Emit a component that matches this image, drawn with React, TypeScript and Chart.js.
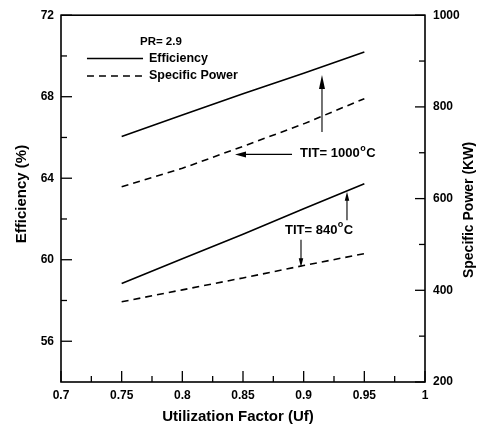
import React, { useEffect, useRef } from "react";
import { Chart, registerables } from "chart.js";

Chart.register(...registerables);

// ---- data ----
const uf = [0.75, 0.8, 0.85, 0.9, 0.95];
const eff1000 = [66.05, 67.1, 68.15, 69.15, 70.2];
const eff840 = [58.83, 60.05, 61.25, 62.5, 63.73];
const sp1000 = [626, 666, 714, 763, 818];
const sp840 = [375, 401, 427, 454, 480];

const xMajorTicks = [0.7, 0.75, 0.8, 0.85, 0.9, 0.95, 1];
const xMinorTicks = [0.725, 0.775, 0.825, 0.875, 0.925, 0.975];
const yLeftMajorTicks = [56, 60, 64, 68, 72];
const yLeftMinorTicks = [58, 62, 66, 70];
const yRightMajorTicks = [200, 400, 600, 800, 1000];
const yRightMinorTicks = [300, 500, 700, 900];

const xTitle = "Utilization Factor (Uf)";
const yLeftTitle = "Efficiency (%)";
const yRightTitle = "Specific Power (KW)";
const legendHeader = "PR= 2.9";
const legendLabels = ["Efficiency", "Specific Power"];

const FONT = "'Liberation Sans', Arial, sans-serif";

function pts(ys: number[]) {
  return uf.map((x, i) => ({ x, y: ys[i] }));
}

function arrow(ctx: CanvasRenderingContext2D, x1: number, y1: number, x2: number, y2: number, headLen: number, headW: number) {
  const ang = Math.atan2(y2 - y1, x2 - x1);
  ctx.beginPath();
  ctx.moveTo(x1, y1);
  ctx.lineTo(x2 - Math.cos(ang) * headLen * 0.6, y2 - Math.sin(ang) * headLen * 0.6);
  ctx.stroke();
  ctx.beginPath();
  ctx.moveTo(x2, y2);
  ctx.lineTo(x2 - Math.cos(ang) * headLen - Math.sin(ang) * headW / 2, y2 - Math.sin(ang) * headLen + Math.cos(ang) * headW / 2);
  ctx.lineTo(x2 - Math.cos(ang) * headLen + Math.sin(ang) * headW / 2, y2 - Math.sin(ang) * headLen - Math.cos(ang) * headW / 2);
  ctx.closePath();
  ctx.fill();
}

function titText(ctx: CanvasRenderingContext2D, x: number, y: number, num: string) {
  ctx.font = `bold 13px ${FONT}`;
  ctx.textAlign = "left";
  ctx.textBaseline = "middle";
  const main = "TIT= " + num;
  ctx.fillText(main, x, y);
  const w = ctx.measureText(main).width;
  ctx.font = `bold 9px ${FONT}`;
  ctx.fillText("o", x + w + 0.5, y - 5);
  const ow = ctx.measureText("o").width;
  ctx.font = `bold 13px ${FONT}`;
  ctx.fillText("C", x + w + ow + 1, y);
}

const decorPlugin = {
  id: "decor",
  afterDraw(chart: any) {
    const ctx: CanvasRenderingContext2D = chart.ctx;
    const { left, right, top, bottom } = chart.chartArea;
    const xs = chart.scales.x;
    const yl = chart.scales.y;
    const yr = chart.scales.y1;
    ctx.save();
    ctx.strokeStyle = "#000";
    ctx.fillStyle = "#000";

    // frame
    ctx.lineWidth = 1.6;
    ctx.strokeRect(left, top, right - left, bottom - top);

    // inward ticks
    ctx.lineWidth = 1.3;
    const tick = (x1: number, y1: number, x2: number, y2: number) => {
      ctx.beginPath();
      ctx.moveTo(x1, y1);
      ctx.lineTo(x2, y2);
      ctx.stroke();
    };
    xMajorTicks.forEach((v) => { const p = xs.getPixelForValue(v); tick(p, bottom, p, bottom - 11); });
    xMinorTicks.forEach((v) => { const p = xs.getPixelForValue(v); tick(p, bottom, p, bottom - 6); });
    yLeftMajorTicks.forEach((v) => { const p = yl.getPixelForValue(v); tick(left, p, left + 11, p); });
    yLeftMinorTicks.forEach((v) => { const p = yl.getPixelForValue(v); tick(left, p, left + 6, p); });
    yRightMajorTicks.forEach((v) => { const p = yr.getPixelForValue(v); tick(right, p, right - 10, p); });
    yRightMinorTicks.forEach((v) => { const p = yr.getPixelForValue(v); tick(right, p, right - 6, p); });

    // axis titles
    ctx.font = `bold 15px ${FONT}`;
    ctx.textAlign = "center";
    ctx.textBaseline = "middle";
    ctx.fillText(xTitle, 238, 417);
    ctx.save();
    ctx.translate(21.5, 194);
    ctx.rotate(-Math.PI / 2);
    ctx.fillText(yLeftTitle, 0, 0);
    ctx.restore();
    ctx.save();
    ctx.font = `bold 14px ${FONT}`;
    ctx.translate(469, 210);
    ctx.rotate(-Math.PI / 2);
    ctx.fillText(yRightTitle, 0, 0);
    ctx.restore();

    // legend (data coords)
    const X = (v: number) => xs.getPixelForValue(v);
    const Y = (v: number) => yl.getPixelForValue(v);
    ctx.font = `bold 11.5px ${FONT}`;
    ctx.textAlign = "left";
    ctx.fillText(legendHeader, X(0.7651), Y(70.7));
    ctx.lineWidth = 1.5;
    ctx.beginPath();
    ctx.moveTo(X(0.7214), Y(69.88));
    ctx.lineTo(X(0.7676), Y(69.88));
    ctx.stroke();
    ctx.setLineDash([7, 5]);
    ctx.beginPath();
    ctx.moveTo(X(0.7214), Y(69.02));
    ctx.lineTo(X(0.7676), Y(69.02));
    ctx.stroke();
    ctx.setLineDash([]);
    ctx.font = `bold 12.5px ${FONT}`;
    ctx.fillText(legendLabels[0], X(0.7725), Y(69.88));
    ctx.fillText(legendLabels[1], X(0.7725), Y(69.02));

    // annotations
    ctx.lineWidth = 1.1;
    arrow(ctx, X(0.9151), Y(66.27), X(0.9151), Y(69.06), 14, 6);
    arrow(ctx, X(0.8904), Y(65.17), X(0.8434), Y(65.17), 11, 6);
    titText(ctx, X(0.897), Y(65.2), "1000");
    arrow(ctx, X(0.9357), Y(61.94), X(0.9357), Y(63.34), 9, 4.5);
    arrow(ctx, X(0.8978), Y(60.98), X(0.8978), Y(59.63), 9, 4.5);
    titText(ctx, X(0.8846), Y(61.46), "840");

    ctx.restore();
  },
};

export default function App() {
  const ref = useRef<HTMLCanvasElement | null>(null);
  useEffect(() => {
    if (!ref.current) return;
    const tickFont = { family: FONT, size: 12, weight: "bold" as const };
    const solid = { borderColor: "#000", borderWidth: 1.6, pointRadius: 0, fill: false, tension: 0 };
    const dashed = { ...solid, borderDash: [7, 5] };
    const chart = new Chart(ref.current, {
      type: "line",
      data: {
        datasets: [
          { label: "Efficiency TIT=1000", data: pts(eff1000), yAxisID: "y", ...solid },
          { label: "Efficiency TIT=840", data: pts(eff840), yAxisID: "y", ...solid },
          { label: "Specific Power TIT=1000", data: pts(sp1000), yAxisID: "y1", ...dashed },
          { label: "Specific Power TIT=840", data: pts(sp840), yAxisID: "y1", ...dashed },
        ],
      },
      options: {
        animation: false,
        responsive: true,
        maintainAspectRatio: false,
        layout: { padding: { top: 8, left: 0, right: 0, bottom: 0 } },
        plugins: { legend: { display: false }, tooltip: { enabled: false }, title: { display: false } },
        scales: {
          x: {
            type: "linear",
            min: 0.7,
            max: 1,
            grid: { display: false, drawTicks: false },
            border: { display: false },
            afterBuildTicks: (s: any) => { s.ticks = xMajorTicks.map((v) => ({ value: v })); },
            ticks: { font: tickFont, color: "#000", padding: 6, maxRotation: 0, autoSkip: false, callback: (v: any) => String(v) },
            afterFit: (s: any) => { s.height = 46; },
          },
          y: {
            type: "linear",
            position: "left",
            min: 54,
            max: 72,
            grid: { display: false, drawTicks: false },
            border: { display: false },
            afterBuildTicks: (s: any) => { s.ticks = yLeftMajorTicks.map((v) => ({ value: v })); },
            ticks: { font: tickFont, color: "#000", padding: 7, autoSkip: false, callback: (v: any) => String(v) },
            afterFit: (s: any) => { s.width = 61; },
          },
          y1: {
            type: "linear",
            position: "right",
            min: 200,
            max: 1000,
            grid: { display: false, drawTicks: false },
            border: { display: false },
            afterBuildTicks: (s: any) => { s.ticks = yRightMajorTicks.map((v) => ({ value: v })); },
            ticks: { font: tickFont, color: "#000", padding: 8, autoSkip: false, callback: (v: any) => String(v) },
            afterFit: (s: any) => { s.width = 54; },
          },
        },
      },
      plugins: [decorPlugin],
    } as any);
    return () => chart.destroy();
  }, []);
  return (
    <div style={{ position: "fixed", left: 0, top: 0, width: 479, height: 428, background: "#fff" }}>
      <canvas ref={ref} />
    </div>
  );
}
